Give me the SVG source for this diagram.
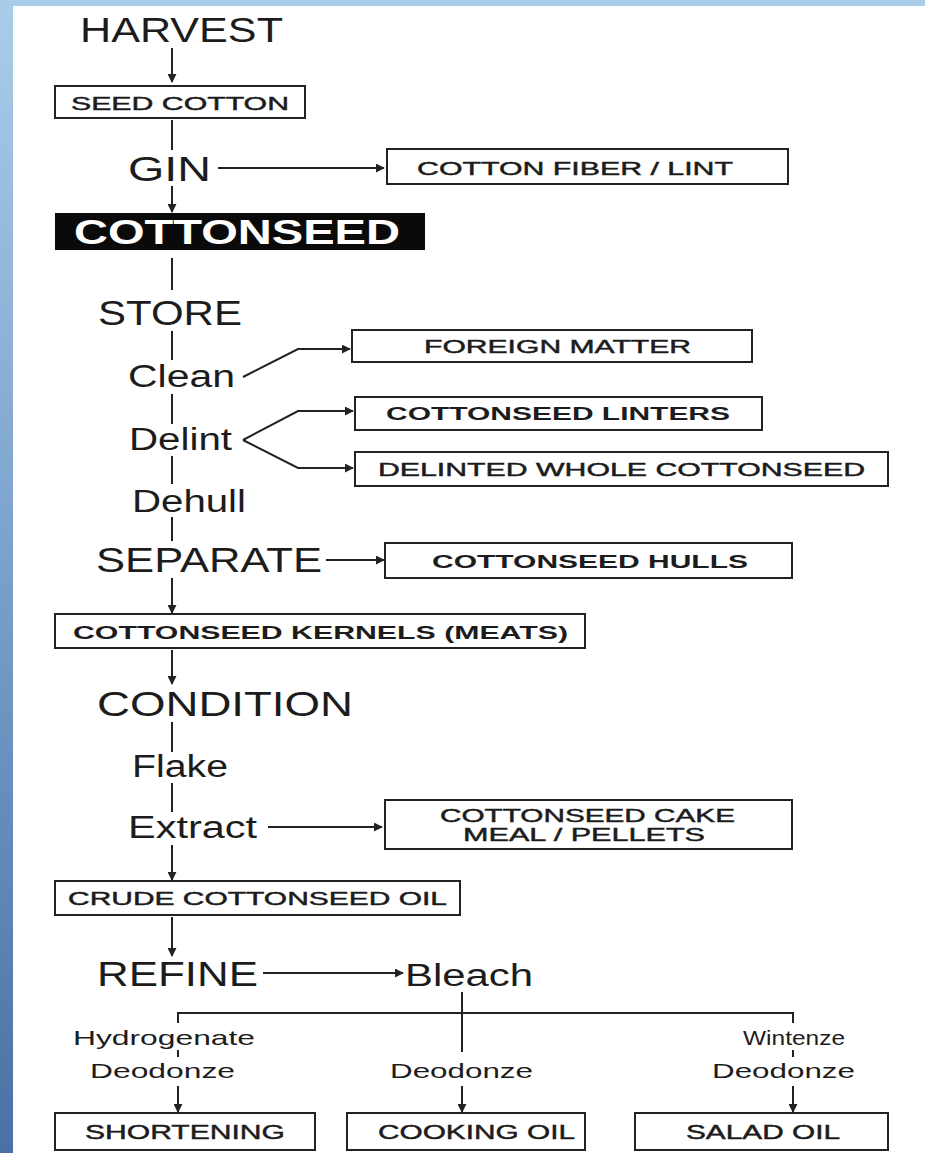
<svg xmlns="http://www.w3.org/2000/svg" width="925" height="1153" viewBox="0 0 925 1153">
<style>
  .t{font-family:"Liberation Sans",Arial,Helvetica,sans-serif;fill:#1c1c1c}
  .big{font-size:35px}
  .mid{font-size:31px}
  .sm{font-size:21px}
  .bx{font-size:19px;stroke:#1c1c1c;stroke-width:0.45}
  .bb{font-size:19px;font-weight:bold}
  .box{fill:#fff;stroke:#222;stroke-width:2}
  .ln{fill:none;stroke:#222;stroke-width:2}
</style>
<defs>
  <linearGradient id="side" x1="0" y1="0" x2="0" y2="1">
    <stop offset="0" stop-color="#a9cde9"/>
    <stop offset="0.5" stop-color="#7a9fcb"/>
    <stop offset="1" stop-color="#4a70a5"/>
  </linearGradient>
  <marker id="ah" viewBox="0 0 10 10" refX="9" refY="5" markerWidth="9" markerHeight="9" markerUnits="userSpaceOnUse" orient="auto">
    <path d="M0,0 L10,5 L0,10 z" fill="#222"/>
  </marker>
</defs>
<rect width="925" height="1153" fill="#fff"/>
<rect x="0" y="0" width="925" height="6" fill="#a9cde9"/>
<rect x="0" y="0" width="13" height="1153" fill="url(#side)"/>

<g id="connectors">
  <line class="ln" x1="172" y1="48" x2="172" y2="82" marker-end="url(#ah)"/>
  <line class="ln" x1="172" y1="120" x2="172" y2="150"/>
  <line class="ln" x1="218" y1="168" x2="384" y2="168" marker-end="url(#ah)"/>
  <line class="ln" x1="172" y1="186" x2="172" y2="212" marker-end="url(#ah)"/>
  <line class="ln" x1="172" y1="258" x2="172" y2="290"/>
  <line class="ln" x1="172" y1="331" x2="172" y2="360"/>
  <polyline class="ln" points="243,377 298,349 350,349" marker-end="url(#ah)"/>
  <line class="ln" x1="172" y1="394" x2="172" y2="424"/>
  <polyline class="ln" points="243,440 298,411 353,411" marker-end="url(#ah)"/>
  <polyline class="ln" points="243,440 298,468 353,468" marker-end="url(#ah)"/>
  <line class="ln" x1="172" y1="456" x2="172" y2="484"/>
  <line class="ln" x1="172" y1="517" x2="172" y2="541"/>
  <line class="ln" x1="326" y1="560" x2="384" y2="560" marker-end="url(#ah)"/>
  <line class="ln" x1="172" y1="578" x2="172" y2="613" marker-end="url(#ah)"/>
  <line class="ln" x1="172" y1="650" x2="172" y2="684" marker-end="url(#ah)"/>
  <line class="ln" x1="172" y1="722" x2="172" y2="752"/>
  <line class="ln" x1="172" y1="783" x2="172" y2="812"/>
  <line class="ln" x1="268" y1="827" x2="382" y2="827" marker-end="url(#ah)"/>
  <line class="ln" x1="172" y1="845" x2="172" y2="880" marker-end="url(#ah)"/>
  <line class="ln" x1="172" y1="917" x2="172" y2="956" marker-end="url(#ah)"/>
  <line class="ln" x1="263" y1="973" x2="403" y2="973" marker-end="url(#ah)"/>
  <line class="ln" x1="462" y1="992" x2="462" y2="1052"/>
  <polyline class="ln" points="178,1023 178,1013 793,1013 793,1023"/>
  <line class="ln" x1="178" y1="1050" x2="178" y2="1057"/>
  <line class="ln" x1="793" y1="1050" x2="793" y2="1057"/>
  <line class="ln" x1="178" y1="1086" x2="178" y2="1112" marker-end="url(#ah)"/>
  <line class="ln" x1="462" y1="1086" x2="462" y2="1112" marker-end="url(#ah)"/>
  <line class="ln" x1="793" y1="1086" x2="793" y2="1112" marker-end="url(#ah)"/>
</g>

<g id="harvest"><text class="t big" x="80" y="42" textLength="203" lengthAdjust="spacingAndGlyphs">HARVEST</text></g>
<g id="seed-cotton"><rect class="box" x="55" y="86" width="250" height="32"/><text class="t bx" x="71" y="110" textLength="218" lengthAdjust="spacingAndGlyphs">SEED COTTON</text></g>
<g id="gin"><text class="t big" x="128" y="181" textLength="83" lengthAdjust="spacingAndGlyphs">GIN</text></g>
<g id="fiber"><rect class="box" x="387" y="149" width="401" height="35"/><text class="t bx" x="417" y="175" textLength="316" lengthAdjust="spacingAndGlyphs">COTTON FIBER / LINT</text></g>
<g id="cottonseed"><rect x="55" y="213" width="370" height="37" fill="#0a0a0a"/><text x="74" y="244" font-family="Liberation Sans,Arial,sans-serif" font-size="35" font-weight="bold" fill="#fff" textLength="326" lengthAdjust="spacingAndGlyphs">COTTONSEED</text></g>
<g id="store"><text class="t big" x="98" y="325" textLength="144" lengthAdjust="spacingAndGlyphs">STORE</text></g>
<g id="clean"><text class="t mid" x="128" y="387" textLength="107" lengthAdjust="spacingAndGlyphs">Clean</text></g>
<g id="foreign"><rect class="box" x="352" y="330" width="400" height="32"/><text class="t bx" x="424" y="353" textLength="267" lengthAdjust="spacingAndGlyphs">FOREIGN MATTER</text></g>
<g id="delint"><text class="t mid" x="129" y="450" textLength="103" lengthAdjust="spacingAndGlyphs">Delint</text></g>
<g id="linters"><rect class="box" x="355" y="397" width="407" height="33"/><text class="t bb" x="386" y="420" textLength="344" lengthAdjust="spacingAndGlyphs">COTTONSEED LINTERS</text></g>
<g id="delinted"><rect class="box" x="355" y="452" width="533" height="34"/><text class="t bx" x="378" y="476" textLength="487" lengthAdjust="spacingAndGlyphs">DELINTED WHOLE COTTONSEED</text></g>
<g id="dehull"><text class="t mid" x="132" y="512" textLength="114" lengthAdjust="spacingAndGlyphs">Dehull</text></g>
<g id="separate"><text class="t big" x="96" y="572" textLength="226" lengthAdjust="spacingAndGlyphs">SEPARATE</text></g>
<g id="hulls"><rect class="box" x="385" y="543" width="407" height="35"/><text class="t bb" x="432" y="568" textLength="316" lengthAdjust="spacingAndGlyphs">COTTONSEED HULLS</text></g>
<g id="kernels"><rect class="box" x="55" y="614" width="530" height="34"/><text class="t bb" x="73" y="639" textLength="495" lengthAdjust="spacingAndGlyphs">COTTONSEED KERNELS (MEATS)</text></g>
<g id="condition"><text class="t big" x="97" y="716" textLength="256" lengthAdjust="spacingAndGlyphs">CONDITION</text></g>
<g id="flake"><text class="t mid" x="132" y="777" textLength="96" lengthAdjust="spacingAndGlyphs">Flake</text></g>
<g id="extract"><text class="t mid" x="128" y="838" textLength="129" lengthAdjust="spacingAndGlyphs">Extract</text></g>
<g id="cake"><rect class="box" x="385" y="800" width="407" height="49"/><text class="t bx" x="440" y="822" textLength="295" lengthAdjust="spacingAndGlyphs">COTTONSEED CAKE</text><text class="t bx" x="463" y="841" textLength="242" lengthAdjust="spacingAndGlyphs">MEAL / PELLETS</text></g>
<g id="crude"><rect class="box" x="55" y="881" width="405" height="34"/><text class="t bx" x="68" y="905" textLength="379" lengthAdjust="spacingAndGlyphs">CRUDE COTTONSEED OIL</text></g>
<g id="refine"><text class="t big" x="97" y="986" textLength="161" lengthAdjust="spacingAndGlyphs">REFINE</text></g>
<g id="bleach"><text class="t mid" x="405" y="986" textLength="128" lengthAdjust="spacingAndGlyphs">Bleach</text></g>
<g id="hydrogenate"><text class="t sm" x="73" y="1045" textLength="182" lengthAdjust="spacingAndGlyphs">Hydrogenate</text></g>
<g id="deodorize-left"><text class="t sm" x="90" y="1078" textLength="145" lengthAdjust="spacingAndGlyphs">Deodonze</text></g>
<g id="deodorize-mid"><text class="t sm" x="390" y="1078" textLength="143" lengthAdjust="spacingAndGlyphs">Deodonze</text></g>
<g id="winterize"><text class="t sm" x="743" y="1045" textLength="102" lengthAdjust="spacingAndGlyphs">Wintenze</text></g>
<g id="deodorize-right"><text class="t sm" x="712" y="1078" textLength="143" lengthAdjust="spacingAndGlyphs">Deodonze</text></g>
<g id="shortening"><rect class="box" x="55" y="1113" width="260" height="37"/><text class="t bx" x="85" y="1139" style="font-size:21px" textLength="200" lengthAdjust="spacingAndGlyphs">SHORTENING</text></g>
<g id="cooking-oil"><rect class="box" x="347" y="1113" width="238" height="37"/><text class="t bx" x="378" y="1139" style="font-size:21px" textLength="197" lengthAdjust="spacingAndGlyphs">COOKING OIL</text></g>
<g id="salad-oil"><rect class="box" x="635" y="1113" width="253" height="37"/><text class="t bx" x="686" y="1139" style="font-size:21px" textLength="154" lengthAdjust="spacingAndGlyphs">SALAD OIL</text></g>
</svg>
